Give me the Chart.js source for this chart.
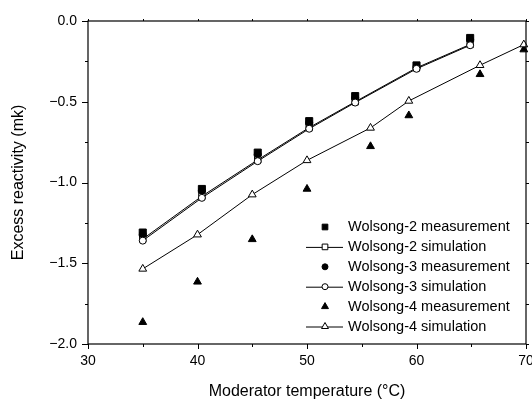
<!DOCTYPE html>
<html>
<head>
<meta charset="utf-8">
<script src="https://cdn.jsdelivr.net/npm/chart.js@4.4.1/dist/chart.umd.min.js"></script>
<style>
  html, body { margin: 0; padding: 0; background: #fff; }
  #wrap { width: 532px; height: 400px; position: relative; }
</style>
</head>
<body>
<div id="wrap"><canvas id="chart" width="532" height="400"></canvas></div>
<script>
// Wolsong-2 / -3 points (same temperatures)
const tempW23  = [35, 40.4, 45.5, 50.2, 54.4, 60.0, 64.9];
const w2Meas   = [-1.31, -1.04, -0.815, -0.62, -0.465, -0.275, -0.105];
const w2Sim    = [-1.35, -1.085, -0.86, -0.66, -0.50, -0.29, -0.145];
const w3Meas   = [-1.32, -1.05, -0.825, -0.63, -0.475, -0.285, -0.115];
const w3Sim    = [-1.36, -1.095, -0.868, -0.667, -0.505, -0.296, -0.15];
// Wolsong-4
const tempW4   = [35, 40, 45, 50, 55.8, 59.3, 65.8, 69.8];
const w4Meas   = [-1.865, -1.615, -1.352, -1.04, -0.776, -0.585, -0.33, -0.177];
const w4Sim    = [-1.535, -1.323, -1.075, -0.863, -0.662, -0.495, -0.274, -0.146];

const xTicks = [30, 40, 50, 60, 70];
const yTicks = [-2.0, -1.5, -1.0, -0.5, 0.0];

const FONT = '"Liberation Sans", Arial, sans-serif';
const pts = (xs, ys) => xs.map((x, i) => ({ x, y: ys[i] }));

const datasets = [
  { label: 'Wolsong-2 measurement', data: pts(tempW23, w2Meas), showLine: false,
    pointStyle: 'rect', pointRadius: 5, backgroundColor: '#000', borderColor: '#000', order: 2 },
  { label: 'Wolsong-2 simulation', data: pts(tempW23, w2Sim), showLine: true,
    pointStyle: 'rect', pointRadius: 4.5, backgroundColor: '#fff', borderColor: '#000', order: 4 },
  { label: 'Wolsong-3 measurement', data: pts(tempW23, w3Meas), showLine: false,
    pointStyle: 'circle', pointRadius: 3.5, backgroundColor: '#000', borderColor: '#000', order: 3 },
  { label: 'Wolsong-3 simulation', data: pts(tempW23, w3Sim), showLine: true,
    pointStyle: 'circle', pointRadius: 3.5, backgroundColor: '#fff', borderColor: '#000', order: 1 },
  { label: 'Wolsong-4 measurement', data: pts(tempW4, w4Meas), showLine: false,
    pointStyle: 'triangle', pointRadius: 4.5, backgroundColor: '#000', borderColor: '#000', order: 5 },
  { label: 'Wolsong-4 simulation', data: pts(tempW4, w4Sim), showLine: true,
    pointStyle: 'triangle', pointRadius: 4.5, backgroundColor: '#fff', borderColor: '#000', order: 0 },
];
datasets.forEach(d => { d.clip = false; d.borderWidth = 1; d.pointBorderWidth = 1; d.tension = 0; });

// frame + tick marks on all four sides
const framePlugin = {
  id: 'frame',
  afterDraw(chart) {
    const { ctx, chartArea: a, scales: { x, y } } = chart;
    ctx.save();
    ctx.strokeStyle = '#000';
    ctx.lineWidth = 1.2;
    ctx.strokeRect(a.left, a.top, a.right - a.left, a.bottom - a.top);
    ctx.lineWidth = 1;
    ctx.beginPath();
    for (let v = 30; v <= 70; v += 5) {
      const px = Math.round(x.getPixelForValue(v)) + 0.5;
      const len = v % 10 === 0 ? 5 : 3;
      ctx.moveTo(px, a.bottom); ctx.lineTo(px, a.bottom + len);
      ctx.moveTo(px, a.top); ctx.lineTo(px, a.top - 2);
    }
    for (let v = -2; v <= 0.001; v += 0.25) {
      const py = Math.round(y.getPixelForValue(v)) + 0.5;
      const len = Math.abs(v * 2 - Math.round(v * 2)) < 1e-6 ? 6 : 3;
      ctx.moveTo(a.left, py); ctx.lineTo(a.left - len, py);
      ctx.moveTo(a.right, py); ctx.lineTo(a.right + 3, py);
    }
    ctx.stroke();
    ctx.restore();
  }
};

// legend drawn inside the plot, lower right
const legendPlugin = {
  id: 'innerLegend',
  afterDraw(chart) {
    const { ctx } = chart;
    const x0 = 306, x1 = 343, xm = 325, xt = 348, y0 = 227, dy = 19.9;
    ctx.save();
    ctx.font = '14.5px ' + FONT;
    ctx.textBaseline = 'middle';
    chart.data.datasets.forEach((d, i) => {
      const yy = y0 + i * dy;
      if (d.showLine) {
        ctx.strokeStyle = '#000'; ctx.lineWidth = 1;
        ctx.beginPath(); ctx.moveTo(x0, yy + 0.5); ctx.lineTo(x1, yy + 0.5); ctx.stroke();
      }
      ctx.fillStyle = d.backgroundColor; ctx.strokeStyle = '#000'; ctx.lineWidth = 1;
      const r = d.pointStyle === 'circle' ? 3 : 4;
      Chart.helpers.drawPoint(ctx, { pointStyle: d.pointStyle, radius: r, borderWidth: 1, rotation: 0 }, xm, yy);
      ctx.fillStyle = '#000';
      ctx.fillText(d.label, xt, yy);
    });
    ctx.restore();
  }
};

new Chart(document.getElementById('chart'), {
  type: 'scatter',
  data: { datasets },
  plugins: [framePlugin, legendPlugin],
  options: {
    responsive: false,
    animation: false,
    layout: { padding: { left: 0, right: 5, top: 21, bottom: 0 } },
    plugins: { legend: { display: false }, tooltip: { enabled: false } },
    scales: {
      x: {
        type: 'linear', min: 30, max: 70,
        afterFit: s => { s.height = 56; s.paddingLeft = 0; s.paddingRight = 0; },
        afterBuildTicks: s => { s.ticks = xTicks.map(v => ({ value: v })); },
        grid: { display: false, drawTicks: false },
        border: { display: false },
        ticks: { color: '#000', font: { family: FONT, size: 14 }, padding: 9, maxRotation: 0 },
        title: { display: true, text: 'Moderator temperature (°C)', color: '#000',
                 font: { family: FONT, size: 16, lineHeight: 1 }, padding: { top: 0, bottom: 0 } }
      },
      y: {
        type: 'linear', min: -2, max: 0,
        afterFit: s => { s.width = 88; s.paddingTop = 0; s.paddingBottom = 0; },
        afterBuildTicks: s => { s.ticks = yTicks.map(v => ({ value: v })); },
        grid: { display: false, drawTicks: false },
        border: { display: false },
        ticks: { color: '#000', font: { family: FONT, size: 14 }, padding: 11,
                 callback: v => v.toFixed(1).replace('-', '\u2212') },
        title: { display: true, text: 'Excess reactivity (mk)', color: '#000',
                 font: { family: FONT, size: 16, lineHeight: 1 }, padding: { top: 11, bottom: 0 } }
      }
    }
  }
});
</script>
</body>
</html>
